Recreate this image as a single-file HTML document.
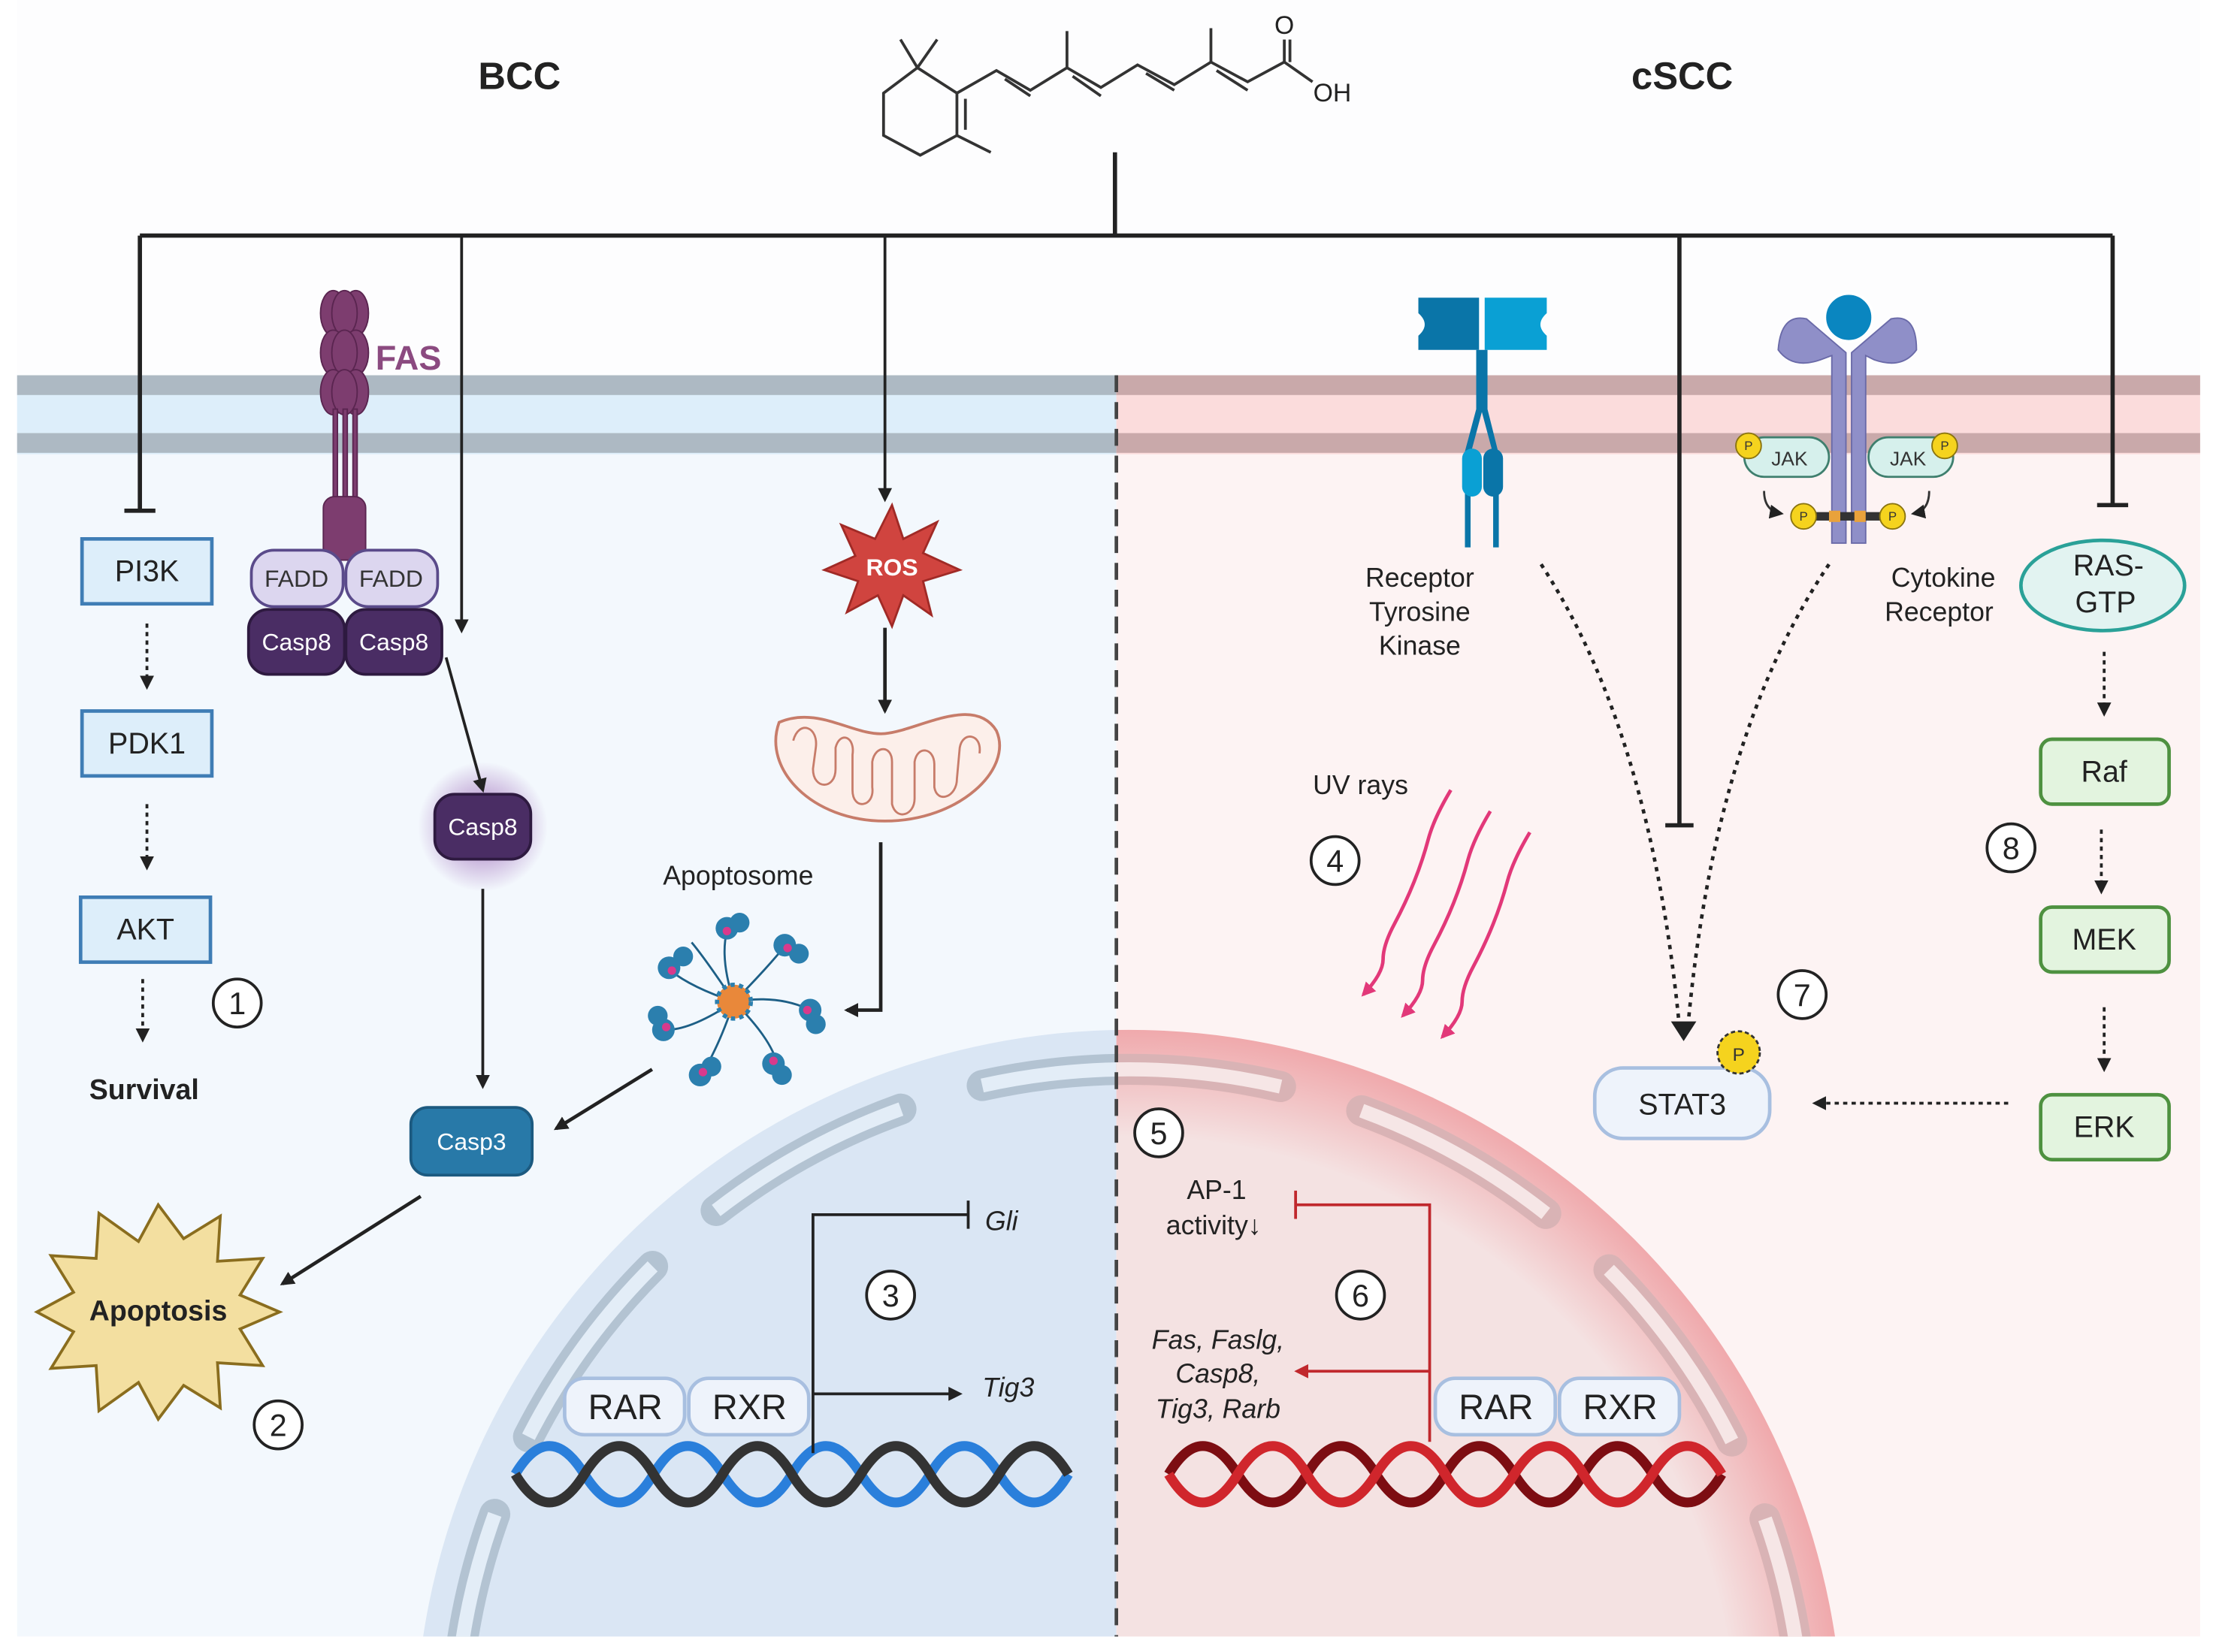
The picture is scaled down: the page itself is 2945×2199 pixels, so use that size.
<!DOCTYPE html>
<html><head><meta charset="utf-8"><style>
html,body{margin:0;padding:0;background:#fff;overflow:hidden;width:2945px;height:2199px}
svg{display:block}
text{font-family:"Liberation Sans",sans-serif}
</style></head><body>
<svg width="2945" height="2199" viewBox="0 0 1568 1171" xmlns="http://www.w3.org/2000/svg">
<defs>
<marker id="ah" markerWidth="10" markerHeight="10" refX="8" refY="5" orient="auto" markerUnits="userSpaceOnUse"><path d="M0,0 L10,5 L0,10 Z" fill="#222"/></marker>
<marker id="ahr" markerWidth="10" markerHeight="10" refX="8" refY="5" orient="auto" markerUnits="userSpaceOnUse"><path d="M0,0 L10,5 L0,10 Z" fill="#c0282d"/></marker>
<marker id="ahp" markerWidth="10" markerHeight="10" refX="8" refY="5" orient="auto" markerUnits="userSpaceOnUse"><path d="M0,0 L10,5 L0,10 Z" fill="#e0246c"/></marker>
<radialGradient id="glow"><stop offset="0.5" stop-color="#c9b3dc"/><stop offset="1" stop-color="#c9b3dc" stop-opacity="0"/></radialGradient>
<radialGradient id="rnuc" cx="800" cy="1236" r="506" gradientUnits="userSpaceOnUse"><stop offset="0.85" stop-color="#f4e2e2"/><stop offset="1" stop-color="#f0a9ac"/></radialGradient>
<clipPath id="cl"><rect x="12" y="0" width="779" height="1160"/></clipPath>
<clipPath id="cr"><rect x="791" y="0" width="768" height="1160"/></clipPath>
</defs>
<rect x="12" y="0" width="1547" height="266" fill="#fdfdfe"/>
<rect x="12" y="266" width="779" height="894" fill="#f3f8fd"/>
<rect x="791" y="266" width="768" height="894" fill="#fdf3f3"/>
<rect x="12" y="266" width="779" height="56" fill="#ddeefa"/>
<rect x="12" y="266" width="779" height="14" fill="#adb9c3"/>
<rect x="12" y="307" width="779" height="14" fill="#adb9c3"/>
<rect x="791" y="266" width="768" height="56" fill="#fbdcdc"/>
<rect x="791" y="266" width="768" height="14" fill="#c9a9aa"/>
<rect x="791" y="307" width="768" height="14" fill="#c9a9aa"/>
<g clip-path="url(#cl)"><circle cx="800" cy="1236" r="506" fill="#dae6f4"/>
<circle cx="800" cy="1236" r="478" fill="none" stroke="#b3c3d2" stroke-width="22" stroke-dasharray="150 60" stroke-linecap="round" transform="rotate(-95 800 1236)"/>
<circle cx="800" cy="1236" r="478" fill="none" stroke="#e3edf7" stroke-width="10" stroke-dasharray="150 60" transform="rotate(-95 800 1236)"/></g>
<g clip-path="url(#cr)"><circle cx="800" cy="1236" r="506" fill="url(#rnuc)"/>
<circle cx="800" cy="1236" r="478" fill="none" stroke="#d9b3b5" stroke-width="22" stroke-dasharray="150 60" stroke-linecap="round" transform="rotate(-95 800 1236)"/>
<circle cx="800" cy="1236" r="478" fill="none" stroke="#f6e6e6" stroke-width="10" stroke-dasharray="150 60" transform="rotate(-95 800 1236)"/></g>
<line x1="791" y1="266" x2="791" y2="1160" stroke="#444" stroke-width="2.5" stroke-dasharray="12 7"/>
<text x="368" y="63" font-size="27" font-weight="bold" text-anchor="middle" fill="#222">BCC</text>
<text x="1192" y="63" font-size="27" font-weight="bold" text-anchor="middle" fill="#222">cSCC</text>
<g stroke="#333" stroke-width="2" fill="none">
<path d="M650,48 L678,66 L678,96 L652,110 L626,96 L626,66 Z"/>
<path d="M650,48 L638,28 M650,48 L664,28 M678,96 L702,108"/>
<path d="M678,66 L706,50 L730,64 L756,48 L780,62 L806,46 L832,60 L858,44 L884,58 L910,44 L930,58"/>
<path d="M684,70 L684,92 M712,56 L730,68 M760,54 L780,68 M812,52 L832,64 M862,50 L884,64"/>
<path d="M756,48 L756,22 M858,44 L858,20 M910,44 L910,28 M914,44 L914,28"/>
</g>
<text x="910" y="24" font-size="18" text-anchor="middle" fill="#222">O</text>
<text x="944" y="72" font-size="18" text-anchor="middle" fill="#222">OH</text>
<g stroke="#222" stroke-width="3" fill="none">
<path d="M790,108 L790,167 M99,167 L1497,167 M99,167 L99,362 M88,362 L110,362"/>
<path d="M1497,167 L1497,358 M1486,358 L1508,358 M1190,167 L1190,585 M1180,585 L1200,585"/>
</g>
<line x1="327" y1="167" x2="327" y2="447" stroke="#222" stroke-width="2" marker-end="url(#ah)"/>
<line x1="627" y1="167" x2="627" y2="354" stroke="#222" stroke-width="2" marker-end="url(#ah)"/>
<g font-size="21" text-anchor="middle" fill="#222">
<rect x="58" y="382" width="92" height="46" fill="#ddeefa" stroke="#3f7db5" stroke-width="2.5"/><text x="104" y="412">PI3K</text>
<rect x="58" y="504" width="92" height="46" fill="#ddeefa" stroke="#3f7db5" stroke-width="2.5"/><text x="104" y="534">PDK1</text>
<rect x="57" y="636" width="92" height="46" fill="#ddeefa" stroke="#3f7db5" stroke-width="2.5"/><text x="103" y="666">AKT</text>
</g>
<g stroke="#222" stroke-width="2" stroke-dasharray="3 3">
<line x1="104" y1="442" x2="104" y2="487" marker-end="url(#ah)"/>
<line x1="104" y1="570" x2="104" y2="615" marker-end="url(#ah)"/>
<line x1="101" y1="694" x2="101" y2="737" marker-end="url(#ah)"/>
</g>
<text x="102" y="779" font-size="20" font-weight="bold" text-anchor="middle" fill="#222">Survival</text>
<g fill="#7d3d6f" stroke="#5a2550" stroke-width="1">
<ellipse cx="236" cy="222" rx="9" ry="16"/><ellipse cx="252" cy="222" rx="9" ry="16"/><ellipse cx="244" cy="222" rx="9" ry="16"/>
<ellipse cx="236" cy="250" rx="9" ry="16"/><ellipse cx="252" cy="250" rx="9" ry="16"/><ellipse cx="244" cy="250" rx="9" ry="16"/>
<ellipse cx="236" cy="278" rx="9" ry="16"/><ellipse cx="252" cy="278" rx="9" ry="16"/><ellipse cx="244" cy="278" rx="9" ry="16"/>
<rect x="236" y="290" width="3" height="70"/><rect x="243" y="290" width="3" height="70"/><rect x="250" y="290" width="3" height="70"/>
<rect x="229" y="352" width="30" height="45" rx="8"/>
</g>
<text x="266" y="262" font-size="24" font-weight="bold" fill="#8b4a80">FAS</text>
<g font-size="17" text-anchor="middle">
<rect x="178" y="390" width="65" height="40" rx="16" fill="#dcd6ef" stroke="#5a4a8a" stroke-width="2"/><text x="210" y="416" fill="#333">FADD</text>
<rect x="245" y="390" width="65" height="40" rx="16" fill="#dcd6ef" stroke="#5a4a8a" stroke-width="2"/><text x="277" y="416" fill="#333">FADD</text>
<rect x="176" y="432" width="68" height="46" rx="14" fill="#4a2d64" stroke="#2e1a40" stroke-width="2"/><text x="210" y="461" fill="#fff">Casp8</text>
<rect x="245" y="432" width="68" height="46" rx="14" fill="#4a2d64" stroke="#2e1a40" stroke-width="2"/><text x="279" y="461" fill="#fff">Casp8</text>
<circle cx="342" cy="586" r="46" fill="url(#glow)"/>
<rect x="308" y="563" width="68" height="46" rx="14" fill="#4a2d64" stroke="#2e1a40" stroke-width="2"/><text x="342" y="592" fill="#fff">Casp8</text>
<rect x="291" y="785" width="86" height="48" rx="12" fill="#2879a8" stroke="#1c5a80" stroke-width="2"/><text x="334" y="815" fill="#fff">Casp3</text>
</g>
<line x1="316" y1="466" x2="342" y2="560" stroke="#222" stroke-width="2" marker-end="url(#ah)"/>
<line x1="342" y1="630" x2="342" y2="770" stroke="#222" stroke-width="2" marker-end="url(#ah)"/>
<line x1="462" y1="758" x2="394" y2="800" stroke="#222" stroke-width="2.5" marker-end="url(#ah)"/>
<line x1="298" y1="848" x2="200" y2="910" stroke="#222" stroke-width="2.5" marker-end="url(#ah)"/>
<polygon fill="#f3dfa0" stroke="#8a6d1e" stroke-width="2" points="198,930 170,942 186,968 154,966 156,998 130,982 112,1006 98,980 70,1000 68,968 36,970 52,944 26,930 52,916 36,890 68,892 70,860 98,880 112,854 130,878 156,862 154,894 186,892 170,918"/>
<text x="112" y="936" font-size="20" font-weight="bold" text-anchor="middle" fill="#222">Apoptosis</text>
<polygon fill="#d0443f" stroke="#a02a26" stroke-width="1.5" points="632,358 640,382 664,370 654,392 680,404 654,412 660,436 640,422 632,444 622,422 600,434 608,412 584,404 606,394 596,372 620,382"/>
<text x="632" y="408" font-size="17" font-weight="bold" text-anchor="middle" fill="#fff">ROS</text>
<line x1="627" y1="445" x2="627" y2="504" stroke="#222" stroke-width="2.5" marker-end="url(#ah)"/>
<path d="M552,512 C580,500 605,522 627,520 C650,518 690,492 706,518 C718,545 680,582 627,582 C575,582 540,545 552,512 Z" fill="#fcefea" stroke="#c77c6a" stroke-width="2"/>
<path d="M562,525 C566,510 580,515 578,530 L576,545 C576,560 592,560 592,545 L592,530 C595,518 606,522 604,535 L604,560 C604,575 620,572 618,558 L618,540 C620,528 632,528 632,540 L632,570 C635,582 648,578 648,566 L648,540 C650,528 662,530 662,542 L662,558 C664,570 678,565 678,552 L680,530 C682,518 696,520 694,534" fill="none" stroke="#c77c6a" stroke-width="1.5"/>
<path d="M624,597 L624,716 L600,716" fill="none" stroke="#222" stroke-width="2.5" marker-end="url(#ah)"/>
<text x="523" y="627" font-size="19" text-anchor="middle" fill="#222">Apoptosome</text>
<g stroke="#1d5f86" stroke-width="1.5" fill="none">
<path d="M520,710 Q510,680 515,660 M520,710 Q540,690 555,672 M520,710 Q550,705 572,715 M520,710 Q545,735 550,752 M520,710 Q510,740 498,760 M520,710 Q490,730 472,730 M520,710 Q490,700 475,688 M520,710 Q500,680 490,668"/>
</g>
<g fill="#2b7fae">
<circle cx="515" cy="658" r="8"/><circle cx="524" cy="654" r="7"/><circle cx="556" cy="670" r="8"/><circle cx="566" cy="676" r="7"/>
<circle cx="574" cy="716" r="8"/><circle cx="578" cy="726" r="7"/><circle cx="548" cy="754" r="8"/><circle cx="554" cy="762" r="7"/>
<circle cx="496" cy="762" r="8"/><circle cx="504" cy="756" r="7"/><circle cx="470" cy="730" r="8"/><circle cx="466" cy="720" r="7"/>
<circle cx="474" cy="686" r="8"/><circle cx="484" cy="678" r="7"/>
</g>
<g fill="#d83a8c"><circle cx="515" cy="660" r="3"/><circle cx="558" cy="672" r="3"/><circle cx="572" cy="716" r="3"/><circle cx="548" cy="752" r="3"/><circle cx="498" cy="760" r="3"/><circle cx="472" cy="728" r="3"/><circle cx="476" cy="688" r="3"/></g>
<circle cx="520" cy="710" r="12" fill="#e9883a" stroke="#2b7fae" stroke-width="3" stroke-dasharray="3 3"/>
<path d="M365,1045 q24,-40 49,0 t49,0 t49,0 t49,0 t49,0 t49,0 t49,0 t49,0" fill="none" stroke="#2a7fdb" stroke-width="7"/>
<path d="M365,1045 q24,40 49,0 t49,0 t49,0 t49,0 t49,0 t49,0 t49,0 t49,0" fill="none" stroke="#333" stroke-width="7"/>
<g font-size="25" text-anchor="middle" fill="#222">
<rect x="400" y="977" width="85" height="40" rx="14" fill="#eef3fb" stroke="#a8bfe0" stroke-width="2.5"/><text x="443" y="1006">RAR</text>
<rect x="488" y="977" width="85" height="40" rx="14" fill="#eef3fb" stroke="#a8bfe0" stroke-width="2.5"/><text x="531" y="1006">RXR</text>
</g>
<path d="M576,1030 L576,861 L686,861 M686,851 L686,871" fill="none" stroke="#222" stroke-width="2"/>
<line x1="576" y1="988" x2="680" y2="988" stroke="#222" stroke-width="2" marker-end="url(#ah)"/>
<text x="698" y="872" font-size="19" font-style="italic" fill="#222">Gli</text>
<text x="696" y="990" font-size="19" font-style="italic" fill="#222">Tig3</text>
<g fill="#0a75a8">
<path d="M1005,211 L1048,211 L1048,248 L1005,248 L1005,238 Q1014,230 1005,222 Z"/>
<path d="M1052,211 L1096,211 L1096,222 Q1087,230 1096,238 L1096,248 L1052,248 Z" fill="#0aa0d4"/>
<path d="M1046,248 L1046,290 L1038,320 L1038,388 L1042,388 L1042,322 L1050,292 L1058,322 L1058,388 L1062,388 L1062,322 L1054,290 L1054,248 Z"/>
<rect x="1036" y="318" width="14" height="34" rx="7" fill="#0aa0d4"/><rect x="1051" y="318" width="14" height="34" rx="7"/>
</g>
<g font-size="19" text-anchor="middle" fill="#222"><text x="1006" y="416">Receptor</text><text x="1006" y="440">Tyrosine</text><text x="1006" y="464">Kinase</text></g>
<path d="M1280,226 Q1262,222 1260,248 Q1270,262 1290,255 L1298,252 L1298,385 L1308,385 L1308,250 Z" fill="#8f8fc8" stroke="#6a6aa8"/>
<path d="M1340,226 Q1358,222 1358,248 Q1348,262 1328,255 L1322,252 L1322,385 L1312,385 L1312,250 Z" fill="#8f8fc8" stroke="#6a6aa8"/>
<circle cx="1310" cy="225" r="17" fill="#0a86c0" stroke="#fff" stroke-width="2"/>
<g font-size="14" text-anchor="middle" fill="#333">
<rect x="1236" y="310" width="60" height="28" rx="14" fill="#d6f0ec" stroke="#3f7f6e" stroke-width="1.5"/><text x="1268" y="330">JAK</text>
<rect x="1324" y="310" width="60" height="28" rx="14" fill="#d6f0ec" stroke="#3f7f6e" stroke-width="1.5"/><text x="1352" y="330">JAK</text>
</g>
<rect x="1285" y="363" width="50" height="6" fill="#333"/><rect x="1296" y="362" width="8" height="8" fill="#e9a23b"/><rect x="1314" y="362" width="8" height="8" fill="#e9a23b"/>
<g fill="#f5d31e" stroke="#8a7410" stroke-width="1"><circle cx="1239" cy="316" r="9"/><circle cx="1378" cy="316" r="9"/><circle cx="1278" cy="366" r="9"/><circle cx="1341" cy="366" r="9"/></g>
<g font-size="9" text-anchor="middle" fill="#333"><text x="1239" y="319">P</text><text x="1378" y="319">P</text><text x="1278" y="369">P</text><text x="1341" y="369">P</text></g>
<path d="M1250,348 Q1250,362 1262,364" fill="none" stroke="#333" stroke-width="1.5" marker-end="url(#ah)"/>
<path d="M1367,348 Q1367,362 1356,364" fill="none" stroke="#333" stroke-width="1.5" marker-end="url(#ah)"/>
<g font-size="19" text-anchor="middle" fill="#222"><text x="1377" y="416">Cytokine</text><text x="1374" y="440">Receptor</text></g>
<ellipse cx="1490" cy="415" rx="58" ry="32" fill="#e2f3f1" stroke="#2aa198" stroke-width="2.5"/>
<g font-size="21" text-anchor="middle" fill="#222"><text x="1494" y="408">RAS-</text><text x="1492" y="434">GTP</text>
<rect x="1446" y="524" width="91" height="46" rx="8" fill="#e3f4df" stroke="#4e9140" stroke-width="2.5"/><text x="1491" y="554">Raf</text>
<rect x="1446" y="643" width="91" height="46" rx="8" fill="#e3f4df" stroke="#4e9140" stroke-width="2.5"/><text x="1491" y="673">MEK</text>
<rect x="1446" y="776" width="91" height="46" rx="8" fill="#e3f4df" stroke="#4e9140" stroke-width="2.5"/><text x="1491" y="806">ERK</text></g>
<g stroke="#222" stroke-width="2" stroke-dasharray="3 3">
<line x1="1491" y1="462" x2="1491" y2="506" marker-end="url(#ah)"/>
<line x1="1489" y1="588" x2="1489" y2="632" marker-end="url(#ah)"/>
<line x1="1491" y1="714" x2="1491" y2="758" marker-end="url(#ah)"/>
<line x1="1423" y1="782" x2="1286" y2="782" marker-end="url(#ah)"/>
</g>
<path d="M1092,400 Q1170,520 1190,728" fill="none" stroke="#222" stroke-width="2.5" stroke-dasharray="3 4"/>
<path d="M1296,400 Q1215,520 1196,728" fill="none" stroke="#222" stroke-width="2.5" stroke-dasharray="3 4"/>
<path d="M1184,724 L1202,724 L1193,738 Z" fill="#222"/>
<rect x="1130" y="757" width="124" height="50" rx="20" fill="#eef3fb" stroke="#a8bfe0" stroke-width="2.5"/>
<text x="1192" y="790" font-size="21" text-anchor="middle" fill="#222">STAT3</text>
<circle cx="1232" cy="746" r="15" fill="#f5d31e" stroke="#333" stroke-width="1.5" stroke-dasharray="3 2"/>
<text x="1232" y="752" font-size="13" text-anchor="middle" fill="#333">P</text>
<text x="964" y="563" font-size="19" text-anchor="middle" fill="#222">UV rays</text>
<g fill="none" stroke="#e0246c" stroke-width="2.5">
<path d="M1028,560 q-12,20 -16,35 t-10,30 t-14,30 t-8,25 t-14,25" marker-end="url(#ahp)" opacity=".9"/>
<path d="M1056,575 q-12,20 -16,35 t-10,30 t-14,30 t-8,25 t-14,25" marker-end="url(#ahp)" opacity=".9"/>
<path d="M1084,590 q-12,20 -16,35 t-10,30 t-14,30 t-8,25 t-14,25" marker-end="url(#ahp)" opacity=".9"/>
</g>
<path d="M828,1045 q24,-40 49,0 t49,0 t49,0 t49,0 t49,0 t49,0 t49,0 t49,0" fill="none" stroke="#7d0d12" stroke-width="7"/>
<path d="M828,1045 q24,40 49,0 t49,0 t49,0 t49,0 t49,0 t49,0 t49,0 t49,0" fill="none" stroke="#d0262c" stroke-width="7"/>
<g font-size="25" text-anchor="middle" fill="#222">
<rect x="1017" y="977" width="85" height="40" rx="14" fill="#eef3fb" stroke="#a8bfe0" stroke-width="2.5"/><text x="1060" y="1006">RAR</text>
<rect x="1105" y="977" width="85" height="40" rx="14" fill="#eef3fb" stroke="#a8bfe0" stroke-width="2.5"/><text x="1148" y="1006">RXR</text>
</g>
<path d="M1013,1022 L1013,854 L918,854 M918,844 L918,864" fill="none" stroke="#c0282d" stroke-width="2"/>
<line x1="1013" y1="972" x2="919" y2="972" stroke="#c0282d" stroke-width="2" marker-end="url(#ahr)"/>
<g font-size="19" text-anchor="middle" fill="#222">
<text x="862" y="850">AP-1</text><text x="860" y="875">activity↓</text>
<g font-style="italic"><text x="863" y="956">Fas, Faslg,</text><text x="863" y="980">Casp8,</text><text x="863" y="1005">Tig3, Rarb</text></g>
</g>
<g fill="#fff" stroke="#222" stroke-width="2"><circle cx="168" cy="711" r="17"/><circle cx="197" cy="1010" r="17"/><circle cx="631" cy="918" r="17"/><circle cx="946" cy="610" r="17"/><circle cx="821" cy="803" r="17"/><circle cx="964" cy="918" r="17"/><circle cx="1277" cy="705" r="17"/><circle cx="1425" cy="601" r="17"/></g>
<g font-size="22" text-anchor="middle" fill="#222"><text x="168" y="719">1</text><text x="197" y="1018">2</text><text x="631" y="926">3</text><text x="946" y="618">4</text><text x="821" y="811">5</text><text x="964" y="926">6</text><text x="1277" y="713">7</text><text x="1425" y="609">8</text></g>
</svg>
</body></html>
